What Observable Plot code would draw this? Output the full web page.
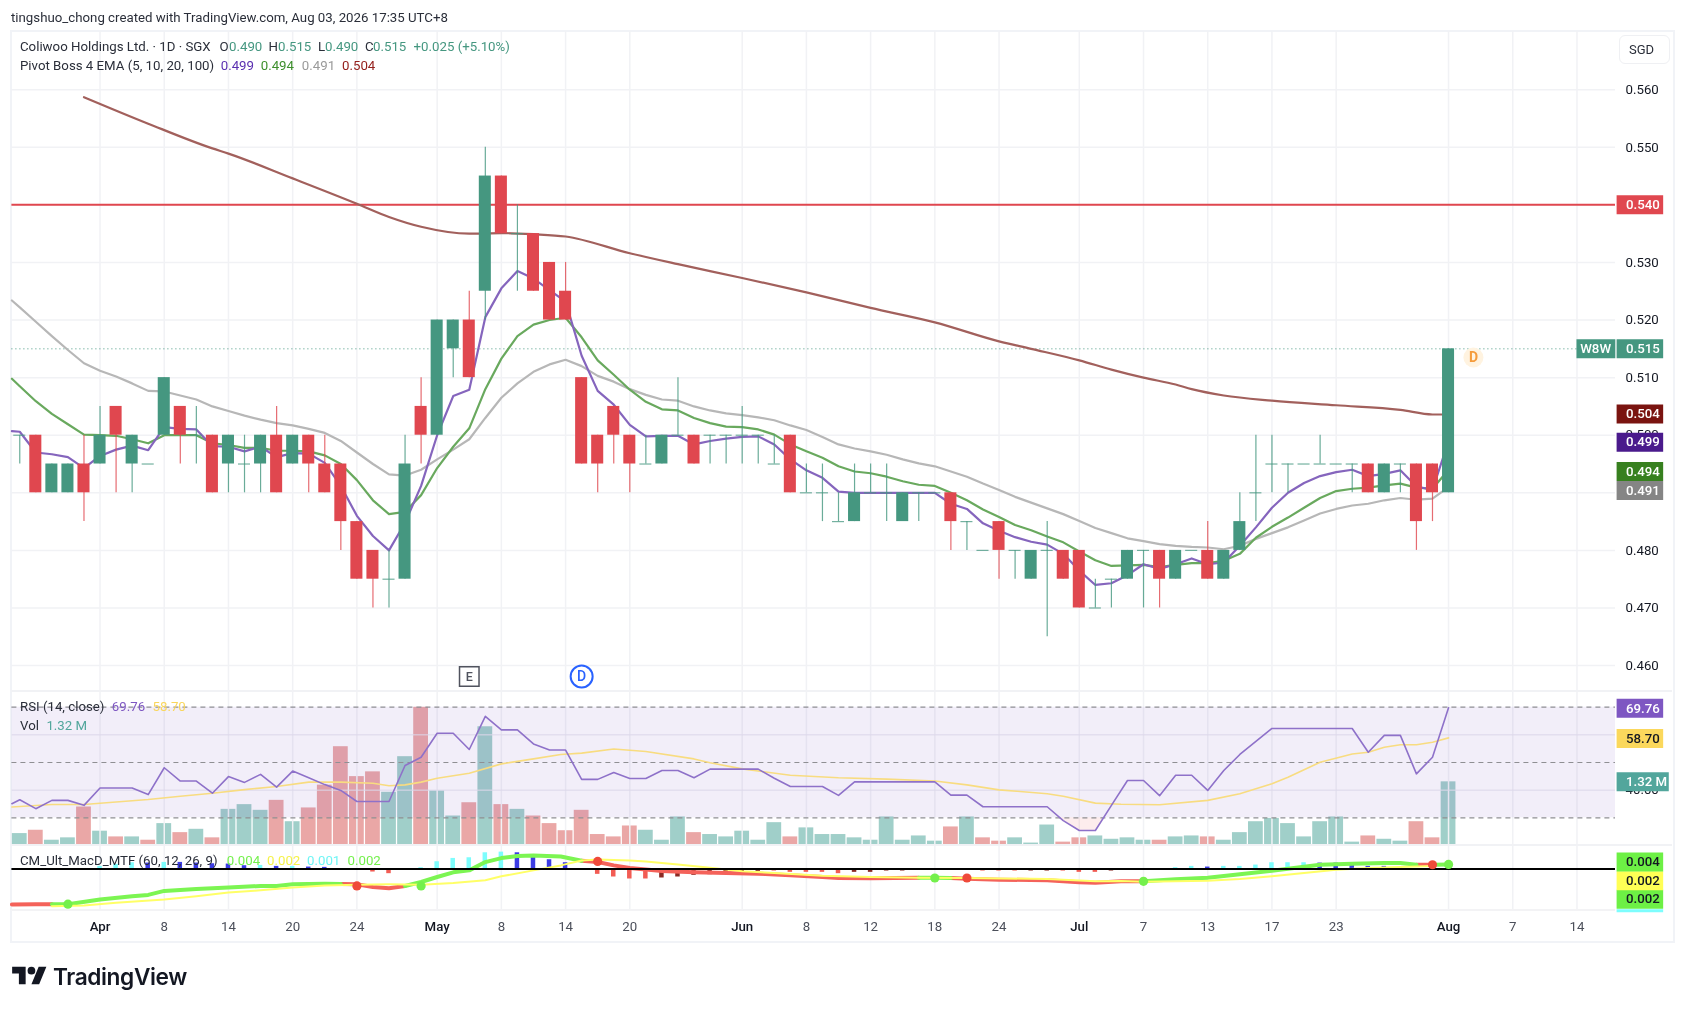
<!DOCTYPE html>
<html>
<head>
<meta charset="utf-8">
<script src="https://cdn.jsdelivr.net/npm/d3@7"></script>
<script src="https://cdn.jsdelivr.net/npm/@observablehq/plot@0.6"></script>
<style>
html,body{margin:0;padding:0;background:#fff;}
body{position:relative;width:1690px;height:1010px;overflow:hidden;font-family:Roboto,sans-serif;color:#131722;filter:blur(.4px);}
.abs{position:absolute;white-space:pre;}
.pane{position:absolute;left:0;}
.pane svg{display:block;overflow:visible;}
.lg{font-size:13.25px;line-height:16px;}
</style>
</head>
<body>
<script>
// ---------- data ----------
const firstBar = -5;
const open  = [.5,.5,.49,.49,.495,.495,.505,.495,.495,.5,.505,.5,.5,.495,.495,.495,.5,.495,.5,.495,.495,.485,.48,.475,.475,.505,.5,.515,.52,.525,.545,.535,.535,.53,.525,.51,.5,.505,.5,.495,.495,.5,.5,.5,.5,.5,.5,.495,.5,.49,.49,.485,.485,.49,.49,.485,.49,.49,.49,.485,.48,.485,.48,.475,.48,.48,.48,.47,.475,.475,.48,.48,.475,.48,.48,.475,.48,.49,.495,.495,.495,.495,.495,.495,.495,.49,.495,.495,.495,.49];
const close = [.5,.49,.495,.495,.49,.5,.5,.5,.495,.51,.5,.5,.49,.5,.495,.5,.49,.5,.495,.49,.485,.475,.475,.475,.495,.5,.52,.52,.51,.545,.535,.535,.525,.52,.52,.495,.495,.5,.495,.495,.5,.5,.495,.5,.5,.5,.5,.495,.49,.49,.49,.485,.49,.49,.49,.49,.49,.49,.485,.485,.48,.48,.48,.48,.48,.475,.47,.47,.475,.48,.48,.475,.48,.48,.475,.48,.485,.49,.495,.495,.495,.495,.495,.495,.49,.495,.495,.485,.49,.515];
const high  = [.5,.5,.495,.495,.5,.505,.505,.5,.495,.51,.505,.505,.5,.5,.5,.5,.505,.5,.5,.5,.495,.485,.48,.48,.5,.51,.52,.52,.525,.55,.545,.54,.535,.53,.53,.51,.5,.505,.5,.5,.5,.51,.5,.5,.5,.505,.5,.5,.5,.495,.495,.49,.495,.495,.495,.49,.49,.49,.49,.485,.48,.485,.48,.48,.485,.48,.48,.475,.475,.48,.48,.48,.48,.48,.485,.48,.49,.5,.5,.495,.495,.5,.495,.495,.495,.495,.495,.495,.495,.515];
const low   = [.495,.49,.49,.49,.485,.495,.49,.49,.495,.5,.495,.495,.49,.49,.49,.49,.49,.495,.49,.49,.48,.475,.47,.47,.475,.495,.5,.51,.51,.52,.535,.525,.525,.52,.52,.495,.49,.495,.49,.495,.495,.5,.495,.495,.495,.495,.495,.495,.49,.49,.485,.485,.485,.49,.485,.485,.485,.49,.48,.48,.48,.475,.475,.475,.465,.475,.47,.47,.47,.475,.47,.47,.475,.48,.475,.475,.48,.485,.49,.49,.495,.495,.495,.49,.49,.49,.49,.48,.485,.49];
const ema5  = [.5006,.497,.4967,.4962,.4943,.4964,.4975,.4982,.4974,.5014,.5011,.501,.4981,.498,.4972,.498,.4962,.4969,.4968,.4952,.4912,.486,.4825,.48,.4848,.4912,.5,.5068,.5079,.5205,.5255,.5285,.5272,.5252,.5232,.5138,.5077,.5053,.5018,.4998,.4999,.4999,.4984,.499,.4994,.4997,.4998,.4984,.4958,.4939,.4926,.4902,.49,.49,.49,.49,.49,.49,.4881,.4872,.4847,.4834,.4823,.4815,.481,.4794,.4765,.474,.4743,.4757,.4776,.4768,.4776,.4786,.4776,.4779,.4808,.484,.4874,.49,.4917,.4929,.4936,.494,.4929,.4933,.4939,.4911,.4905,.499];
const ema10 = [.5085,.5059,.5037,.5019,.5001,.5,.4999,.4993,.4986,.5,.5,.5,.4986,.4983,.4978,.4978,.4973,.4973,.4972,.4965,.495,.4922,.4887,.4863,.4867,.4896,.4943,.498,.5012,.508,.5133,.5172,.5192,.52,.5204,.517,.513,.5105,.5079,.5058,.5045,.5043,.503,.5021,.5015,.5014,.501,.5001,.4984,.4972,.4961,.4946,.4937,.4934,.4928,.492,.4914,.4912,.49,.4887,.4871,.4858,.4844,.4835,.4824,.4814,.4798,.4783,.4773,.4774,.4775,.4771,.4775,.4778,.4778,.4782,.4794,.4822,.4841,.4857,.4874,.4891,.4903,.4907,.4909,.4913,.4916,.4909,.4907,.494];
const ema20 = [.5222,.5197,.5172,.5148,.5125,.5112,.5102,.509,.5077,.5076,.5069,.5062,.505,.5042,.5034,.5027,.5021,.5017,.5011,.5004,.499,.497,.495,.4932,.493,.494,.4958,.4975,.4993,.503,.5065,.509,.511,.5123,.5131,.512,.5103,.5093,.508,.507,.5062,.506,.505,.5043,.5038,.5035,.5031,.5026,.5017,.5009,.4997,.4984,.4977,.4972,.4966,.4958,.4951,.4946,.4937,.4928,.4916,.4905,.4893,.4883,.4873,.4863,.4851,.4839,.483,.4821,.4816,.4811,.4808,.4806,.4805,.4802,.4808,.482,.483,.484,.4852,.4864,.4872,.4878,.4881,.4887,.4891,.4888,.489,.491];
const ema100Index = [-1,3,7,8,12,16,18,20,23,25,27,29,33,36,40,44,48,52,56,58,61,63,65,67,68,70,73,77,81,83,84];
const ema100      = [.5587,.5541,.5498,.5489,.5446,.5402,.5379,.5362,.535,.5351,.5349,.5345,.5316,.5297,.5273,.5248,.5221,.5196,.5163,.515,.513,.5114,.51,.5088,.508,.5069,.506,.5052,.5044,.5036,.5036];
const leftEdge = -5.49, rightEdge = 94.4;
const leftEdgeValues = {ema5:.5007, ema10:.5098, ema20:.5234, rsi:35.1};
const levelLine = .54, lastPrice = .515;
const priceTicks = [.46,.47,.48,.49,.5,.51,.52,.53,.54,.55,.56];
const rsi = [36.5,33.3,36.3,36.3,34.5,40.8,40.8,40.8,38.4,48.1,43.3,43.3,38.9,44.9,42.8,45.7,41.1,46.9,44.5,42,39.9,35.9,35.9,35.9,48.9,51.9,60.6,60.6,54.7,66.7,61.8,61.8,56.7,54.5,54.5,43.9,43.9,46.4,44.2,44.2,47.1,47.1,44.5,47.6,47.6,47.6,47.6,44.3,41.3,41.3,41.3,38.1,43,43,43,43,43,43,38.2,38.2,34,34,34,34,34,29,25.4,25.4,34.5,43.5,43.5,38,45.4,45.4,39.9,47.1,52.9,57.6,62.3,62.3,62.3,62.3,62.3,62.3,53.7,59.8,59.8,45.9,51.9,69.76];
const rsiOversoldIndex = [59.8,60,61,62,62.6];
const rsiOversold      = [30,29,25.4,25.4,30];
const rsiMaIndex = [-5.49,-3,-1,1,3,5,7,9,11,13,15,17,18,19,20,21,23,25,27,28.7,30,32,34,37,38,40,43,46,49,52,54,56,59,60,62,63.6,66,69,71,73,74,76,78,79,80,81,82,83,84];
const rsiMa      = [33.9,34.8,34.8,35.7,36.6,37.8,38.9,40.2,41.3,42.9,42.9,42.5,41.6,41.9,42.9,44.3,46.1,49.5,51.3,52.9,53.4,54.9,54,51.3,49.9,47.7,45.4,44.5,44,43.3,41.9,40.1,38.7,37.8,35.3,34.9,34.7,36.3,38.7,42.3,44.7,50.1,53.1,53.7,55.5,56.4,56.4,57.3,58.9];
const volume = [.23,.30,.09,.14,.79,.28,.16,.16,.09,.44,.25,.32,.14,.74,.84,.72,.93,.48,.77,1.25,2.06,1.43,1.53,1.10,1.85,2.89,1.13,.6,.88,2.48,.84,.74,.6,.44,.29,.72,.21,.16,.39,.30,.09,.58,.25,.21,.16,.28,.09,.46,.16,.35,.21,.21,.14,.09,.58,.09,.18,.07,.37,.58,.14,.07,.14,.03,.41,.05,.14,.18,.11,.14,.09,.09,.16,.18,.16,.09,.25,.48,.55,.44,.16,.48,.58,.05,.18,.11,.07,.48,.14,1.32];
const volumeDownBars = [-4,-1,1,3,5,7,11,13,14,15,16,17,20,23,25,27,28,29,30,31,32,33,37,43,53,55,56,60,61,66,69,79,82,83];
const macdIndex = [-5.49,-4,-3,-2,0,2,3,4,6,8,10,11,12,14,15,16,17,18,19,20,21,22,23,24,25,26,27,28.7,30,31,32,33,35,37,39,41,43,45,46,48,51,52,53,54,56,59,61,62,63.6,65,67,69,71,73,75,76,78,80,81,82,83,84];
const macd      = [-107,-106,-106,-106,-92,-82,-78,-66,-60,-56,-51,-51,-46,-44,-45,-46,-54,-58,-51,-39,-24,-10,-4,21,33,39,41,38,25,21,11,3,-6,-10,-12,-14,-19,-24,-27,-28,-26,-26,-27,-29,-32,-34,-40,-41,-37,-37,-31,-26,-16,-5,7,13,16,18,18,13,13,14];
const signalIndex = [-3,-1,1,4,6,8,10,12,14,16,18,20,22,24,25,27,28.7,30,31,33,34,36,38,40,42,45,48,51,54,59,62,63.6,65,67,69,71,73,75,77,79,81,83];
const signal      = [-112,-110,-102,-92,-82,-71,-64,-56,-50,-47,-46,-47,-42,-34,-22,-4,11,26,29,26,23,14,4,-7,-12,-20,-24,-26,-27,-30,-37,-36,-38,-37,-35,-30,-22,-12,-2,3,6,9];
const macdRedStretches   = [[-5.49,-3],[15,19],[30,51],[53,65],[82,83]];
const macdGreenStretches = [[-3,15],[19,30],[51,53],[65,82],[83,84]];
const histCyan = [[0,8],[1,14],[2,19],[4,20],[10,11],[12,8],[20,4],[21,22],[22,32],[23,34],[24,49],[25,51],[67,4],[68,8],[70,8],[71,8],[72,12],[73,19],[74,19],[75,19]];
const histBlue = [[3,18],[5,20],[6,18],[7,16],[8,15],[9,10],[11,8],[13,6],[14,5],[26,49],[27,41],[28,28],[29,19],[69,6],[76,18],[77,18],[78,14],[79,8],[80,8],[81,4]];
const histRed  = [[-5,-3],[-4,-3],[16,-4],[17,-9],[18,-14],[31,-16],[32,-24],[33,-30],[34,-30],[42,-6],[43,-10],[44,-10],[45,-10],[46,-14],[55,-6],[56,-6],[57,-6],[60,-6],[61,-10],[62,-10]];
const histDark = [[-3,-2],[-2,-2],[30,-2],[35,-27],[36,-24],[37,-19],[38,-17],[39,-13],[40,-10],[41,-7],[47,-10],[48,-10],[49,-6],[50,-6],[58,-6],[59,-6],[63,-6]];
const macdGreenDots = [[-2,-106],[20,-51],[52,-27],[65,-37],[84,14]];
const macdRedDots   = [[16,-51],[31,23],[54,-27],[83,13]];
const dayTicks   = [4,8,12,16,25,29,33,44,48,52,56,65,69,73,77,88,92];
const dayLabels  = ["8","14","20","24","8","14","20","8","12","18","24","7","13","17","23","7","14"];
const monthTicks = [0,21,40,61,84];
const monthLabels = ["Apr","May","Jun","Jul","Aug"];

// ---------- styling ----------
const green="#459780", red="#e0474f", gridColor="#f1f2f5";
const ema5C="#8565bd", ema10C="#69a95e", ema20C="#b7b7b7", ema100C="#a2605c";
const fontFamily="Roboto,sans-serif";
const bars = open.map((o,k)=>({i:firstBar+k,o,c:close[k],h:high[k],l:low[k],v:volume[k]}));
const barIndex = bars.map(d=>d.i);
const series = (xs,ys)=>xs.map((x,k)=>({x,y:ys[k]}));
const edged = (ys,first)=>series([leftEdge,...barIndex],[first,...ys]);
const allTicks = [...dayTicks,...monthTicks];
const tagX = {x1:94.5,x2:97.4}, tagTextX = 95.05;

function pane(top,height,yDomain,marks,extra={}){
  const chart = Plot.plot({
    width:1690,height,
    marginLeft:11.4,marginRight:75,marginTop:0,marginBottom:extra.marginBottom||0,
    x:{domain:[leftEdge,rightEdge],axis:null},
    y:{domain:yDomain,axis:null},
    style:{background:"transparent",fontFamily,color:"#131722"},
    marks
  });
  const box=document.createElement("div");
  box.className="pane";box.style.top=top+"px";
  box.appendChild(chart);
  document.body.appendChild(box);
}
const tag=(values,fill,opts={})=>Plot.ruleY(values,{...tagX,stroke:fill,strokeWidth:19,...opts});
const tagText=(pos,label,fill="#fff")=>Plot.text(pos.map((y,k)=>({y,t:label[k]})),{x:()=>tagTextX,y:"y",text:"t",fill,fontSize:13.25,textAnchor:"start",fontWeight:500});

// ---------- frame ----------
function div(css,text,cls="abs"){const d=document.createElement("div");d.className=cls;d.style.cssText=css;if(text)d.textContent=text;document.body.appendChild(d);return d;}
div("left:10px;top:30px;width:1661px;height:909px;border:2px solid #f1f3f7;box-sizing:content-box;");
div("left:11px;top:690px;width:1661px;height:2px;background:#f1f2f5;");
div("left:11px;top:843.5px;width:1661px;height:2px;background:#f1f2f5;");
div("left:11px;top:908.5px;width:1604px;height:2px;background:#f3f3f5;");
div("left:11px;top:10px;font-size:13.25px;color:#2a2e39;","tingshuo_chong created with TradingView.com, Aug 03, 2026 17:35 UTC+8");

// ---------- price pane ----------
const candleUp=d=>d.c>=d.o?green:red;
const bodies=bars.filter(d=>d.o!==d.c), dashes=bars.filter(d=>d.o===d.c);
pane(31,660,[.4555,.5701],[
  Plot.ruleX(allTicks,{stroke:gridColor,strokeWidth:1.5}),
  Plot.ruleY(priceTicks,{stroke:gridColor,strokeWidth:1.5}),
  Plot.ruleY([lastPrice],{x1:leftEdge,x2:92,stroke:green,strokeDasharray:"1 3",strokeWidth:1}),
  Plot.ruleY([levelLine],{stroke:red,strokeWidth:2,x1:leftEdge,x2:rightEdge}),
  Plot.line(series(ema100Index,ema100),{x:"x",y:"y",stroke:ema100C,strokeWidth:2.2,curve:"monotone-x"}),
  Plot.line(edged(ema20,leftEdgeValues.ema20),{x:"x",y:"y",stroke:ema20C,strokeWidth:2.2}),
  Plot.line(edged(ema10,leftEdgeValues.ema10),{x:"x",y:"y",stroke:ema10C,strokeWidth:2.2}),
  Plot.line(edged(ema5,leftEdgeValues.ema5),{x:"x",y:"y",stroke:ema5C,strokeWidth:2.2}),
  Plot.ruleX(bars,{x:"i",y1:"l",y2:"h",stroke:candleUp,strokeWidth:1.2,strokeOpacity:.8}),
  Plot.rect(bodies,{x1:d=>d.i-.375,x2:d=>d.i+.375,y1:"o",y2:"c",fill:candleUp}),
  Plot.ruleY(dashes,{x1:d=>d.i-.375,x2:d=>d.i+.375,y:"c",stroke:candleUp,strokeWidth:1.2,strokeOpacity:.75}),
  Plot.axisY({anchor:"right",ticks:priceTicks,tickFormat:".3f",tickSize:0,tickPadding:10,fontSize:13.25,label:null}),
  // event markers
  Plot.dot([{x:23,y:.4581}],{x:"x",y:"y",symbol:"square",r:11,stroke:"#50535e",strokeWidth:1.5,fill:"#fff"}),
  Plot.text([{x:23,y:.4581}],{x:"x",y:"y",text:()=>"E",fontSize:12.5,fill:"#50535e",fontWeight:500}),
  Plot.dot([{x:30,y:.4581}],{x:"x",y:"y",r:11,stroke:"#2962ff",strokeWidth:2,fill:"#fff"}),
  Plot.text([{x:30,y:.4581}],{x:"x",y:"y",text:()=>"D",fontSize:14,fill:"#2962ff",fontWeight:500}),
  Plot.dot([{x:85.55,y:.5135}],{x:"x",y:"y",r:10,fill:"#fff3e0"}),
  Plot.text([{x:85.55,y:.5135}],{x:"x",y:"y",text:()=>"D",fontSize:14,fill:"#f59c3c",fontWeight:700}),
  // price tags
  tag([.54],"#e0474f"),tag([.515],green),
  Plot.ruleY([.515],{x1:92,x2:94.42,stroke:green,strokeWidth:19}),
  tag([.5037],"#7a1410"),tag([.4988],"#4a1a8c"),tag([.4937],"#37801f"),tag([.4904],"#858585"),
  tagText([.54,.515,.5037,.4988,.4937,.4904],["0.540","0.515","0.504","0.499","0.494","0.491"]),
  Plot.text([.515],{x:()=>92.2,y:d=>d,text:()=>"W8W",fill:"#fff",fontSize:13.25,textAnchor:"start",fontWeight:500})
]);

// ---------- volume (below the RSI band) ----------
const volFill=d=>volumeDownBars.includes(d.i)?"#d5504d":"#429f94";
pane(691,153,[0,3.223],[
  Plot.rect(bars,{x1:d=>d.i-.46,x2:d=>d.i+.46,y1:()=>0,y2:"v",fill:volFill,fillOpacity:.5})
]);

// ---------- RSI ----------
pane(691,153,[20.34,75.68],[
  Plot.ruleX(allTicks,{stroke:gridColor,strokeWidth:1.5}),
  Plot.ruleY([60,40],{stroke:"#e7e6ee",strokeWidth:1}),
  Plot.rect([{a:30,b:70}],{x1:()=>leftEdge,x2:()=>rightEdge,y1:"a",y2:"b",fill:"#7e57c2",fillOpacity:.1}),
  Plot.areaY(series(rsiOversoldIndex,rsiOversold),{x:"x",y1:()=>30,y2:"y",fill:"#ef5350",fillOpacity:.1}),
  Plot.ruleY([70,50,30],{stroke:"#8f8f93",strokeDasharray:"5 4",strokeWidth:1.2}),
  Plot.line(series(rsiMaIndex,rsiMa),{x:"x",y:"y",stroke:"#f8dc80",strokeWidth:1.6}),
  Plot.line(edged(rsi,leftEdgeValues.rsi),{x:"x",y:"y",stroke:"#8e71c9",strokeWidth:1.6}),
  Plot.axisY({anchor:"right",ticks:[40],tickFormat:".2f",tickSize:0,tickPadding:10,fontSize:13.25,label:null}),
  tag([69.6],"#7e57c2"),tag([58.7],"#fbd85c"),
  tagText([69.6],["69.76"]),tagText([58.7],["58.70"],"#131722")
]);
// volume tag goes above the RSI axis text
pane(691,153,[0,3.223],[
  Plot.ruleY([1.32],{x1:94.5,x2:97.75,stroke:"#52a69c",strokeWidth:19}),
  Plot.text([1.32],{x:()=>tagTextX,y:d=>d,text:()=>"1.32 M",fill:"#fff",fontSize:13.25,textAnchor:"start",fontWeight:500})
]);

// ---------- MACD ----------
const within=(xs,ys,[a,b])=>series(xs,ys).filter(d=>d.x>=a&&d.x<=b);
const hist=(rows,fill)=>Plot.rect(rows,{x1:d=>d[0]-.14,x2:d=>d[0]+.14,y1:()=>0,y2:d=>d[1],fill});
pane(844,99,[-122,74],[
  Plot.ruleX(allTicks,{y1:-122,y2:74,stroke:gridColor,strokeWidth:1.5}),
  hist(histCyan,"#7dfdfd"),hist(histBlue,"#3c3ce4"),hist(histRed,"#f25c54"),hist(histDark,"#8a2a24"),
  ...macdRedStretches.map(s=>Plot.line(within(macdIndex,macd,s),{x:"x",y:"y",stroke:"#f4625a",strokeWidth:4})),
  ...macdGreenStretches.map(s=>Plot.line(within(macdIndex,macd,s),{x:"x",y:"y",stroke:"#7cf552",strokeWidth:4})),
  Plot.line(series(signalIndex,signal),{x:"x",y:"y",stroke:"#ffff66",strokeWidth:2}),
  Plot.ruleY([0],{stroke:"#000",strokeWidth:2,x1:leftEdge,x2:rightEdge}),
  Plot.dot(macdGreenDots,{x:d=>d[0],y:d=>d[1],r:4.6,fill:"#74f04c"}),
  Plot.dot(macdRedDots,{x:d=>d[0],y:d=>d[1],r:4.6,fill:"#ef4a3a"}),
  Plot.axisX({anchor:"bottom",ticks:dayTicks,tickFormat:d=>dayLabels[dayTicks.indexOf(d)],tickSize:0,tickPadding:12,fontSize:13.25,label:null,fill:"#4b4f5a"}),
  Plot.axisX({anchor:"bottom",ticks:monthTicks,tickFormat:d=>monthLabels[monthTicks.indexOf(d)],tickSize:0,tickPadding:12,fontSize:13.25,fontWeight:500,label:null,fill:"#131722"}),
  Plot.ruleY([-126],{x1:94.5,x2:97.4,stroke:"#7dfdfd",strokeWidth:3}),
  tag([-91],"#6df045"),tag([-35],"#ffff55"),tag([21],"#6df045"),
  tagText([21,-35,-91],["0.004","0.002","0.002"],"#131722")
],{marginBottom:34});

// ---------- legends ----------
function legend(top,parts){parts.forEach(([left,text,color,weight])=>{
  div(`left:${left}px;top:${top}px;color:${color};${weight?`font-weight:${weight};`:""}`,text,"abs lg");
});}
legend(39,[[20,"Coliwoo Holdings Ltd. · 1D · SGX","#2a2e39"],[219.6,"O","#2a2e39"],[229,"0.490",green],[268.6,"H","#2a2e39"],[278,"0.515",green],[318,"L","#2a2e39"],[325,"0.490",green],[365,"C","#2a2e39"],[373,"0.515",green],[413.6,"+0.025 (+5.10%)",green]]);
legend(58,[[20,"Pivot Boss 4 EMA (5, 10, 20, 100)","#2a2e39"],[220.7,"0.499","#5a2fb0"],[260.7,"0.494","#3d8f2c"],[301.8,"0.491","#9a9a9a"],[342,"0.504","#94201c"]]);
legend(699,[[20,"RSI (14, close)","#2a2e39"],[111.8,"69.76","#7e57c2"],[152.5,"58.70","#f9d65c"]]);
legend(718,[[20,"Vol","#2a2e39"],[46.4,"1.32 M","#52a69c"]]);
legend(853,[[20,"CM_Ult_MacD_MTF (60, 12, 26, 9)","#2a2e39"],[226.8,"0.004","#74f04c"],[267,"0.002","#f5f24a"],[307,"0.001","#6ff5f5"],[347.5,"0.002","#74f04c"]]);

// ---------- currency button + logo ----------
div("left:1619px;top:35px;width:49px;height:27px;border:1px solid #eff0f3;border-radius:6px;background:#fff;text-align:center;line-height:27px;font-size:13px;color:#2a2e39;text-indent:-6px;","SGD");
const logo=document.createElementNS("http://www.w3.org/2000/svg","svg");
logo.setAttribute("viewBox","0 0 36 28");logo.setAttribute("width","35");logo.setAttribute("height","27");
logo.style.cssText="position:absolute;left:12px;top:963px;";
logo.innerHTML='<path fill="#131722" d="M14 22H7V11H0V4h14v18zM28 22h-8l7.5-18h8L28 22z"/><circle fill="#131722" cx="20" cy="8" r="4"/>';
document.body.appendChild(logo);
div("left:53px;top:963px;font-family:Inter,Roboto,sans-serif;font-size:22.7px;font-weight:600;color:#131722;letter-spacing:-.4px;","TradingView");
</script>
</body>
</html>
